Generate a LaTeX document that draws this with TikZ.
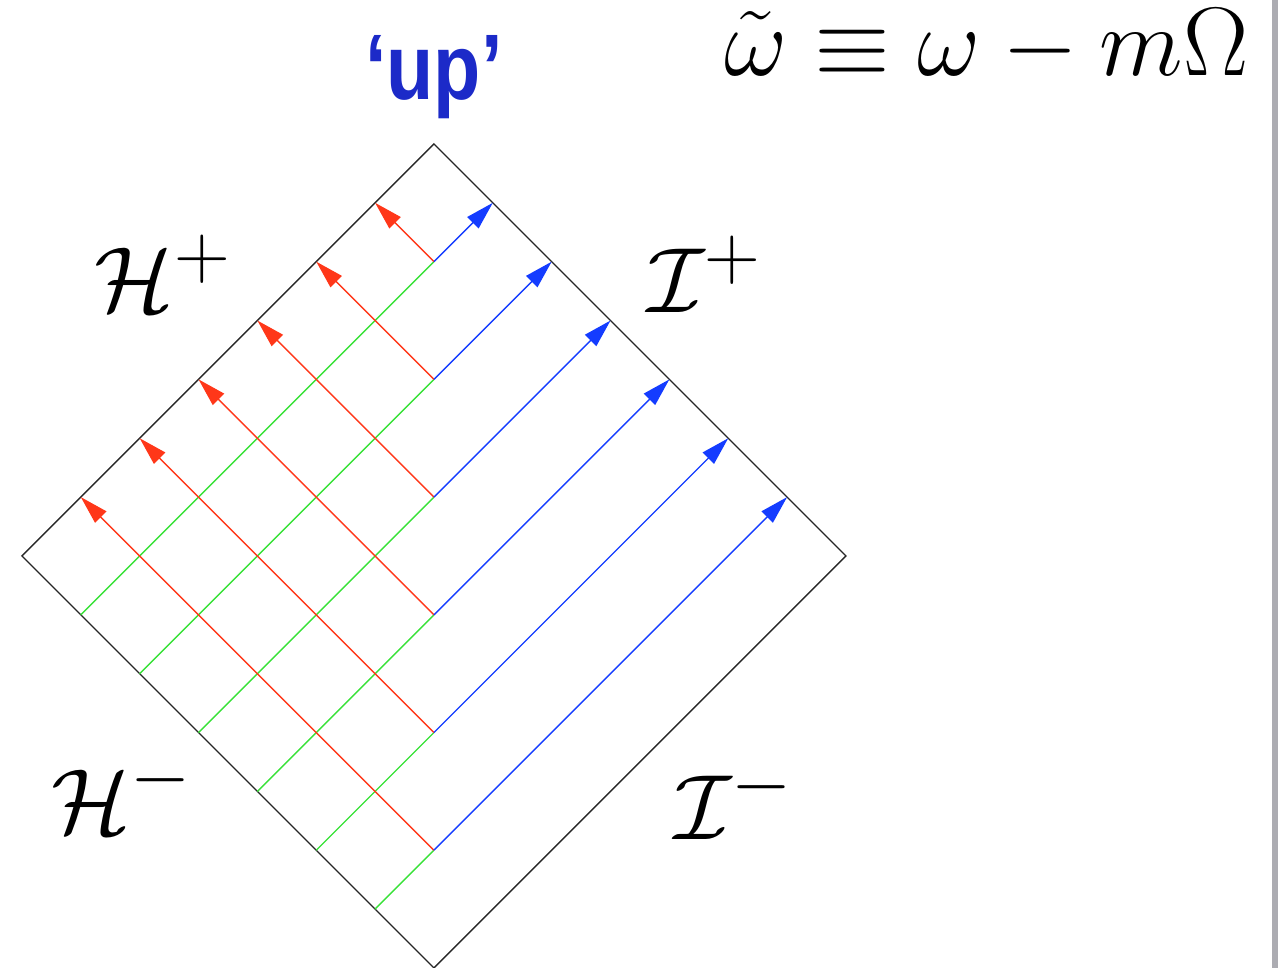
\documentclass[tikz,border=0pt]{standalone}
\usepackage{amsfonts,amssymb,amsmath}
\usepackage{xcolor}
\usepackage{fontspec}
\setsansfont{Liberation Sans}
\usepackage{tikz}
\usetikzlibrary{arrows.meta}

\definecolor{upblue}{RGB}{28,42,200}
\definecolor{inred}{RGB}{255,55,25}
\definecolor{outblue}{RGB}{20,60,255}
\definecolor{ingreen}{RGB}{55,225,55}
\definecolor{bargray}{RGB}{172,172,178}

\begin{document}
\begin{tikzpicture}[x=0.6cm,y=0.6cm,>={Triangle[length=8.2pt,width=4.6pt]},
  mathlbl/.style={font=\fontsize{24.88}{30}\selectfont,inner sep=0pt,scale=1.08},
  redray/.style={inred,->},blueray/.style={outblue,->},greenray/.style={ingreen}]
\useasboundingbox(-7.373,-7)rectangle(14.34,9.446);
\fill[bargray](14.237,-7)rectangle(14.34,9.446);
% diamond
\coordinate(top)at(0,7);\coordinate(rgt)at(7,0);
\coordinate(bot)at(0,-7);\coordinate(lft)at(-7,0);
\draw[black!85](top)--(rgt)--(bot)--(lft)--cycle;
% junctions on the axis
\coordinate(j1)at(0,5);\coordinate(j2)at(0,3);\coordinate(j3)at(0,1);
\coordinate(j4)at(0,-1);\coordinate(j5)at(0,-3);\coordinate(j6)at(0,-5);
% starts on H^-
\coordinate(g1)at(-6,-1);\coordinate(g2)at(-5,-2);\coordinate(g3)at(-4,-3);
\coordinate(g4)at(-3,-4);\coordinate(g5)at(-2,-5);\coordinate(g6)at(-1,-6);
% ends on H^+
\coordinate(r1)at(-1,6);\coordinate(r2)at(-2,5);\coordinate(r3)at(-3,4);
\coordinate(r4)at(-4,3);\coordinate(r5)at(-5,2);\coordinate(r6)at(-6,1);
% ends on I^+
\coordinate(b1)at(1,6);\coordinate(b2)at(2,5);\coordinate(b3)at(3,4);
\coordinate(b4)at(4,3);\coordinate(b5)at(5,2);\coordinate(b6)at(6,1);
\draw[greenray](g1)--(j1) (g2)--(j2) (g3)--(j3) (g4)--(j4) (g5)--(j5) (g6)--(j6);
\draw[redray](j1)--(r1);\draw[redray](j2)--(r2);\draw[redray](j3)--(r3);
\draw[redray](j4)--(r4);\draw[redray](j5)--(r5);\draw[redray](j6)--(r6);
\draw[blueray](j1)--(b1);\draw[blueray](j2)--(b2);\draw[blueray](j3)--(b3);
\draw[blueray](j4)--(b4);\draw[blueray](j5)--(b5);\draw[blueray](j6)--(b6);
% labels
\node[anchor=base,inner sep=0pt,text=upblue,font=\sffamily\bfseries\fontsize{27}{30}\selectfont](up)at(0,7.76){\scalebox{0.83}[1]{‘up’}};
\node[mathlbl,scale=1.053,anchor=base east](freq)at(13.85,8.17){$\tilde\omega\equiv\omega-m\Omega$};
\node[mathlbl,anchor=base](hplus)at(-4.6,4.15){$\mathcal{H}^+$};
\node[mathlbl,anchor=base](iplus)at(4.6,4.13){$\mathcal{I}^+$};
\node[mathlbl,anchor=base](hminus)at(-5.3,-4.71){$\mathcal{H}^-$};
\node[mathlbl,anchor=base](iminus)at(5.1,-4.82){$\mathcal{I}^-$};
\end{tikzpicture}
\end{document}
